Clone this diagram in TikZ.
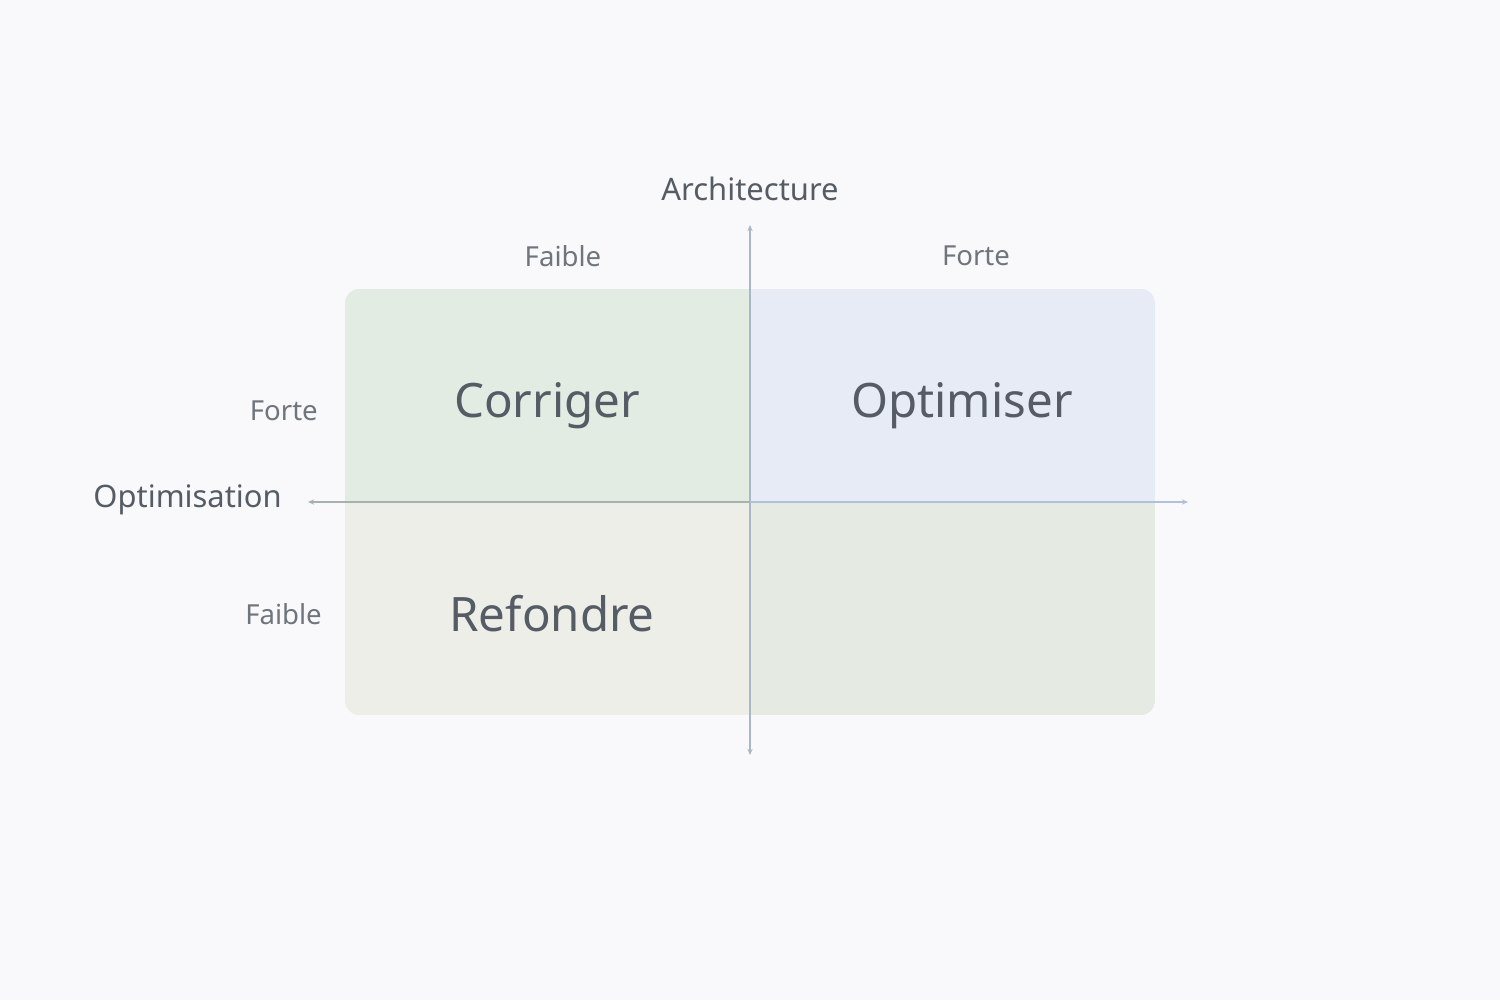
\documentclass[tikz,border=0pt]{standalone}
\usepackage{fontspec}
\setmainfont{Noto Sans}
\usetikzlibrary{arrows.meta}
\definecolor{bgcol}{HTML}{F9F9FB}
\definecolor{txtcol}{HTML}{555C65}
\definecolor{tlcol}{HTML}{E3ECE2}
\definecolor{trcol}{HTML}{E6EBF6}
\definecolor{blcol}{HTML}{EDEEE8}
\definecolor{brcol}{HTML}{E5EBE3}
\definecolor{axvcol}{HTML}{A9B7C6}
\definecolor{axlcol}{HTML}{A6B3AD}
\definecolor{axrcol}{HTML}{B1C1DC}
\tikzset{
  quadlabel/.style={text=txtcol, font=\fontsize{27}{31}\selectfont},
  axistitle/.style={text=txtcol, font=\fontsize{17.6}{21}\selectfont},
  ticklabel/.style={text=txtcol!85, font=\fontsize{15.7}{19}\selectfont},
  axisline/.style={line width=0.8pt, -{Stealth[length=3.5pt,width=3pt]}},
}
\begin{document}
\begin{tikzpicture}[x=0.02cm,y=-0.02cm]
        \fill[bgcol] (0,0) rectangle (1500,1000);
        \useasboundingbox (0,0) rectangle (1500,1000);
        \def\x{405}
        \def\y{213}
        % quadrants
        \begin{scope}
          \clip[rounded corners=8] (750-\x,502-\y) rectangle (750+\x,502+\y);
          \fill[tlcol] (750-\x,502-\y) rectangle (750,502);
          \fill[trcol] (750,502-\y) rectangle (750+\x,502);
          \fill[blcol] (750-\x,502) rectangle (750,502+\y);
          \fill[brcol] (750,502) rectangle (750+\x,502+\y);
        \end{scope}
        \coordinate (O) at (750,502);
        \coordinate (N) at (750,225);
        \coordinate (S) at (750,755);
        \coordinate (W) at (308,502);
        \coordinate (E) at (1188,502);
        \draw[axisline, axvcol] (O) -- (N);
        \draw[axisline, axvcol] (O) -- (S);
        \draw[axisline, axlcol] (O) -- (W);
        \draw[axisline, axrcol] (O) -- (E);
        \node[axistitle] (arch) at (750,189) {Architecture};
        \node[axistitle, anchor=east] (optim) at (288,500) {Optimisation};
        \node[ticklabel] (faibleH) at (563,256) {Faible};
        \node[ticklabel] (forteH) at (976,256) {Forte};
        \node[ticklabel, anchor=east] (forteV) at (324,411) {Forte};
        \node[ticklabel, anchor=east] (faibleV) at (328,614) {Faible};
        \node[quadlabel] (corr) at (547,406) {Corriger};
        \node[quadlabel] (opt) at (962,406) {Optimiser};
        \node[quadlabel] (ref) at (552,614) {Refondre};
      \end{tikzpicture}
\end{document}
